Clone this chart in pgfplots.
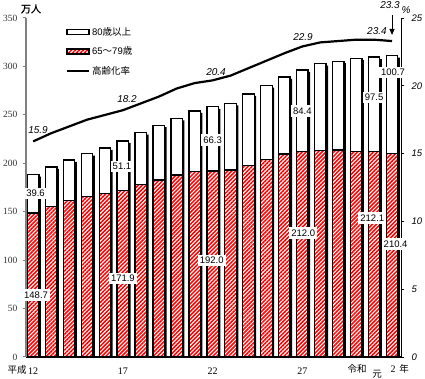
\documentclass[border=0pt]{standalone}
\usepackage{fontspec}
\setmainfont{Liberation Sans}
\newfontfamily\cjk{Noto Sans CJK JP}
\newfontfamily\cjkb[FakeBold=1.5]{Noto Sans CJK JP}
\newfontfamily\tnr{Liberation Serif}
\usepackage{pgfplots}
\usepackage{pgfplotstable}
\pgfplotsset{compat=1.18}
\usetikzlibrary{patterns.meta,arrows.meta}

\pgfplotstableread{
x a b total rate
0 148.7 39.6 188.3 15.9
1 155.4 40.8 196.2 16.5
2 161.6 41.8 203.4 17.0
3 165.7 44.2 209.9 17.5
4 168.8 47.0 215.8 17.85
5 171.9 51.1 223.0 18.2
6 178.0 53.6 231.6 18.7
7 182.8 56.5 239.3 19.2
8 188.0 58.4 246.4 19.8
9 191.5 62.5 254.0 20.2
10 192.0 66.3 258.3 20.4
11 193.0 68.9 261.9 20.75
12 198.0 73.5 271.5 21.3
13 204.0 76.1 280.1 21.85
14 209.6 79.5 289.1 22.4
15 212.0 84.4 296.4 22.9
16 213.5 89.3 302.8 23.2
17 213.8 91.5 305.3 23.3
18 212.3 96.1 308.4 23.4
19 212.1 97.5 309.6 23.4
20 210.4 100.7 311.1 23.3
}\datatable

\begin{document}
\begin{tikzpicture}
\useasboundingbox (0,0) rectangle (425pt,379pt);

\begin{axis}[
  at={(26pt,22pt)}, anchor=south west,
  scale only axis, width=375pt, height=339pt,
  xmin=-0.4, xmax=20.5, ymin=0, ymax=25,
  axis y line*=right, axis x line=none,
  y axis line style={black, line width=0.8pt},
  ytick={0,5,...,25},
  tick align=outside, major tick length=3pt,
  ytick style={black, line width=0.8pt},
  yticklabel style={font=\itshape\fontsize{9.5}{10}\selectfont, xshift=4pt},
  /pgf/number format/assume math mode=true,
  clip=false,
]
\addplot[black, line width=2.2pt, line join=round] table[x=x, y=rate]{\datatable};
\tikzset{rlab/.style={font=\itshape\fontsize{10}{11}\selectfont}}
\node[rlab] at (axis cs:0.27,16.74) {15.9};
\node[rlab] at (axis cs:5.23,19.03) {18.2};
\node[rlab] at (axis cs:10.19,21.02) {20.4};
\node[rlab] at (axis cs:15.04,23.6) {22.9};
\node[rlab] at (axis cs:19.16,24.04) {23.4};
\node[rlab] at (axis cs:19.89,25.96) {23.3};
\node[rlab] at (axis cs:20.78,25.6) {\%};
\draw[-{Triangle[length=6pt,width=5pt]}, line width=1pt] (axis cs:20,25.2) -- (axis cs:20,23.75);
\end{axis}

\begin{axis}[
  at={(26pt,22pt)}, anchor=south west,
  scale only axis, width=375pt, height=339pt,
  xmin=-0.4, xmax=20.5, ymin=0, ymax=350,
  ybar, bar width=11.5pt, bar shift=0pt,
  axis y line*=left, axis x line*=bottom,
  y axis line style={gray, line width=1.5pt},
  x axis line style={black, line width=1.2pt},
  ytick={0,50,...,350},
  ytick style={gray, line width=1pt},
  tick align=outside, major tick length=3pt,
  yticklabel style={font=\tnr\fontsize{9.5}{10}\selectfont, text=black!80, xshift=-2pt},
  xtick={0,5,10,15}, xticklabels={12,17,22,27},
  major x tick style={draw=none},
  xticklabel style={font=\tnr\fontsize{10}{10}\selectfont, yshift=-4pt},
  /pgf/number format/assume math mode=true,
  clip=false,
  legend style={at={(0.098,0.985)}, anchor=north west, draw=none, fill=none,
    font=\fontsize{9.5}{10}\selectfont, row sep=6pt,
    /tikz/every even column/.append style={column sep=2pt}},
  legend cell align=left,
]
\addplot[fill=black, draw=none, bar shift=2pt, forget plot]
  table[x=x, y expr=\thisrow{total}-2]{\datatable};
\addplot[fill=white, draw=black, line width=1.3pt,
  legend image code/.code={\draw[fill=white, draw=black, line width=1.3pt] (0pt,-2.5pt) rectangle (22pt,2.5pt);}]
  table[x=x, y=total]{\datatable};
\addlegendentry{80{\cjk 歳以上}}
\addplot[draw=black, line width=1.3pt, pattern={Lines[angle=45,distance=2.8pt,line width=1.5pt]}, pattern color=red,
  legend image code/.code={\draw[draw=black, line width=1.3pt, pattern={Lines[angle=45,distance=2.8pt,line width=1.5pt]}, pattern color=red] (0pt,-2.5pt) rectangle (22pt,2.5pt);}]
  table[x=x, y=a]{\datatable};
\addlegendentry{65{\cjk ～}79{\cjk 歳}}
\addlegendimage{black, line width=2.2pt, legend image code/.code={\draw[black, line width=2.2pt] (0pt,0pt) -- (22pt,0pt);}}
\addlegendentry{{\cjk 高齢化率}}

\tikzset{vlab/.style={fill=white, inner sep=2.2pt, font=\fontsize{9.5}{10}\selectfont}}
\node[vlab] at (axis cs:0.13,169) {39.6};
\node[vlab] at (axis cs:0.16,64) {148.7};
\node[vlab] at (axis cs:4.95,197) {51.1};
\node[vlab] at (axis cs:5.0,81) {171.9};
\node[vlab] at (axis cs:10.0,224) {66.3};
\node[vlab] at (axis cs:9.95,100) {192.0};
\node[vlab] at (axis cs:15.0,254) {84.4};
\node[vlab] at (axis cs:15.05,128) {212.0};
\node[vlab] at (axis cs:19.0,268) {97.5};
\node[vlab] at (axis cs:18.9,143.5) {212.1};
\node[vlab] at (axis cs:20.05,293.5) {100.7};
\node[vlab] at (axis cs:20.2,116.7) {210.4};
\end{axis}

\node[font=\cjkb\fontsize{10}{10}\selectfont] at (31pt,370pt) {万人};
\node[font=\cjk\fontsize{9.5}{10}\selectfont] at (17pt,9pt) {平成};
\node[font=\cjk\fontsize{9.5}{10}\selectfont] at (357pt,10pt) {令和};
\node[font=\cjk\fontsize{9.5}{10}\selectfont] at (377pt,5pt) {元};
\node[font=\tnr\fontsize{10}{10}\selectfont] at (393pt,10pt) {2};
\node[font=\cjk\fontsize{9.5}{10}\selectfont] at (404pt,10pt) {年};
\end{tikzpicture}
\end{document}
